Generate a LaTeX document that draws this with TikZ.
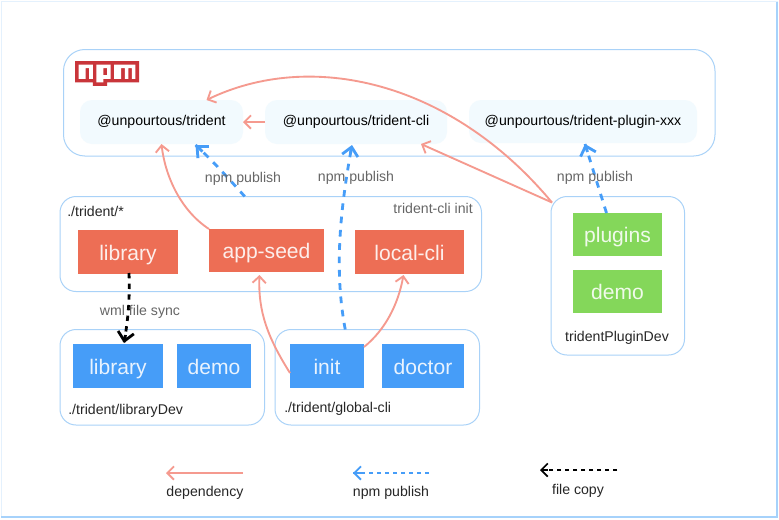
\documentclass[tikz,border=0pt]{standalone}
\usepackage{fontspec}
\setmainfont{Liberation Sans}
\usetikzlibrary{arrows.meta}
\definecolor{frameblue}{HTML}{A9D2F8}
\definecolor{framefaint}{HTML}{E4F1FD}
\definecolor{frameedge}{HTML}{A6D2FB}
\definecolor{boxred}{HTML}{ED6E55}
\definecolor{boxblue}{HTML}{469DF8}
\definecolor{boxgreen}{HTML}{84D75A}
\definecolor{linkpink}{HTML}{F59A8F}
\definecolor{pkgbg}{HTML}{F2FAFE}
\definecolor{npmred}{HTML}{C9353A}
\definecolor{labelgrey}{HTML}{666666}
\tikzset{
  group/.style={draw=frameblue,line width=0.75pt,rounded corners=12pt,fill=white},
  bigroup/.style={group,rounded corners=16pt},
  pkg/.style={fill=pkgbg,rounded corners=9pt,font=\fontsize{10.6}{12}\selectfont,text=black},
  filled/.style={font=\fontsize{15.8}{18}\selectfont,text height=14pt,text depth=2pt},
  redbox/.style={filled,fill=boxred,text=white!88!boxred},
  bluebox/.style={filled,fill=boxblue,text=white!88!boxblue},
  greenbox/.style={filled,fill=boxgreen,text=white!88!boxgreen},
  note/.style={font=\fontsize{10.6}{12}\selectfont,text=labelgrey,inner sep=0pt,text height=8pt,text depth=2pt},
  caption/.style={font=\fontsize{10.6}{12}\selectfont,text=black!85,inner sep=0pt,text height=8pt,text depth=2pt},
  dep/.style={draw=linkpink,line width=1.4pt,-{Straight Barb[length=5pt,width=10pt,line width=1.4pt]}},
  pub/.style={draw=boxblue,line width=2.1pt,dash pattern=on 5pt off 5pt},
  pubhead/.style={draw=boxblue,line width=2.1pt,-{Straight Barb[length=6.5pt,width=12pt,line width=2.1pt]}},
  sync/.style={draw=black,line width=2.1pt,dash pattern=on 4pt off 4pt},
  synchead/.style={draw=black,line width=2.1pt,-{Straight Barb[length=6.5pt,width=12pt,line width=2.1pt]}},
  legdep/.style={draw=linkpink,line width=1.4pt,-{Straight Barb[length=5pt,width=10pt,line width=1.4pt]}},
  legpub/.style={draw=boxblue,line width=1.4pt,dash pattern=on 3pt off 3pt},
  legpubhead/.style={draw=boxblue,line width=1.4pt,-{Straight Barb[length=5pt,width=10pt,line width=1.4pt]}},
  legcopy/.style={draw=black,line width=1.2pt,dash pattern=on 3pt off 3pt},
  legcopyhead/.style={draw=black,line width=1.2pt,-{Straight Barb[length=5pt,width=10pt,line width=1.2pt]}},
}
% style, name, x1, y1, x2, y2, text (pixel coordinates)
\newcommand{\pxbox}[7]{%
  \pgfmathsetmacro{\pxcx}{(#3+#5)/2}\pgfmathsetmacro{\pxcy}{(#4+#6)/2}%
  \pgfmathsetlengthmacro{\pxw}{(#5-#3)*0.75pt}\pgfmathsetlengthmacro{\pxh}{(#6-#4)*0.75pt}%
  \node[#1,minimum width=\pxw,minimum height=\pxh,inner sep=0pt,outer sep=0pt] (#2) at (\pxcx,\pxcy) {#7};%
}
\begin{document}
\begin{tikzpicture}[x=0.75pt,y=-0.75pt]
\useasboundingbox (0,0) rectangle (779,519);
\fill[white] (0,0) rectangle (779,519);
\pxbox{draw=framefaint,line width=1pt}{frame}{1.5}{1.5}{777}{517}{}
\draw[frameedge,line width=1.5pt] (frame.north east) -- (frame.south east) -- (frame.south west);
% containers
\pxbox{bigroup}{npmgroup}{63.5}{49.5}{715}{156}{}
\pxbox{group}{seedgroup}{60}{196.5}{481.5}{291.5}{}
\pxbox{group}{devgroup}{60}{329.5}{264.5}{425}{}
\pxbox{group}{cligroup}{275}{329.5}{479.5}{425}{}
\pxbox{group}{plugingroup}{551}{196.5}{684.5}{355}{}
% npm logo
\begin{scope}[shift={(75,61)},x=2.668pt,y=-2.668pt]
\fill[npmred] (0,0) -- (18,0) -- (18,6) -- (9,6) -- (9,7) -- (5,7) -- (5,6) -- (0,6) -- cycle;
\fill[white] (1,1) -- (1,5) -- (3,5) -- (3,2) -- (4,2) -- (4,5) -- (5,5) -- (5,1) -- cycle;
\fill[white,even odd rule] (6,1) -- (6,6) -- (8,6) -- (8,5) -- (10,5) -- (10,1) -- cycle (8,2) -- (9,2) -- (9,4) -- (8,4) -- cycle;
\fill[white] (11,1) -- (11,5) -- (13,5) -- (13,2) -- (14,2) -- (14,5) -- (15,5) -- (15,2) -- (16,2) -- (16,5) -- (17,5) -- (17,1) -- cycle;
\end{scope}
% packages
\pxbox{pkg}{trident}{80}{100}{243}{144}{@unpourtous/trident}
\pxbox{pkg}{tcli}{265}{100}{447}{144}{@unpourtous/trident-cli}
\pxbox{pkg}{tplugin}{469}{100}{697}{143}{@unpourtous/trident-plugin-xxx}
% boxes
\pxbox{redbox}{lib}{78}{230}{178}{274}{library}
\pxbox{redbox}{seed}{209}{229}{324}{272}{app-seed}
\pxbox{redbox}{local}{355}{230}{464}{274}{local-cli}
\pxbox{bluebox}{libdev}{73}{344}{163}{388}{library}
\pxbox{bluebox}{demoa}{177}{344}{251}{388}{demo}
\pxbox{bluebox}{init}{290}{344}{364}{388}{init}
\pxbox{bluebox}{doctor}{382}{344}{464}{388}{doctor}
\pxbox{greenbox}{plugins}{573}{213}{662}{256}{plugins}
\pxbox{greenbox}{demob}{573}{270}{662}{313}{demo}
% dependency connectors
\draw[dep] (tcli.west) -- (trident.east);
\draw[dep] ([shift={(1,6)}]plugingroup.north west) .. controls (450,80) and (310,50) .. ([shift={(45,0)}]trident.north);
\draw[dep] ([shift={(1,6)}]plugingroup.north west) -- ([shift={(-26,0)}]tcli.south east);
\draw[dep] (seed.north west) .. controls (180,210) and (165,175) .. (trident.south);
\draw[dep] ([shift={(0,7)}]init.west) .. controls (268,338) and (258,312) .. ([shift={(-7,3)}]seed.south);
\draw[dep] ([shift={(0,3)}]init.north east) .. controls (385,330) and (398,305) .. ([shift={(-6,1)}]local.south);
% publish connectors
\draw[pub] ([shift={(-26,0)}]seedgroup.north) .. controls (230,180) and (212,160) .. ([shift={(34,1)}]trident.south);
\draw[pubhead] ([shift={(41,7.5)}]trident.south) -- ([shift={(34,1)}]trident.south);
\draw[pub] ([shift={(-32,0)}]cligroup.north) .. controls (334,270) and (340,210) .. ([shift={(-4,1)}]tcli.south);
\draw[pubhead] ([shift={(-5.5,9)}]tcli.south) -- ([shift={(-4,1)}]tcli.south);
\draw[pub] ([shift={(-11,0)}]plugins.north) -- ([shift={(2,1)}]tplugin.south);
\draw[pubhead] ([shift={(4.5,9)}]tplugin.south) -- ([shift={(2,1)}]tplugin.south);
% sync connector
\draw[sync] ([shift={(1,-1)}]lib.south) .. controls (130,300) and (128,320) .. ([shift={(6,-1)}]libdev.north);
\draw[synchead] ([shift={(7.5,-9)}]libdev.north) -- ([shift={(6,-1)}]libdev.north);
% legend
\coordinate (depstart) at (243,473); \coordinate (depend) at (166,473);
\coordinate (pubstart) at (429,473); \coordinate (pubbase) at (361,473); \coordinate (pubend) at (353,473);
\coordinate (copystart) at (617,470); \coordinate (copybase) at (548,470); \coordinate (copyend) at (540,470);
\draw[legdep] (depstart) -- (depend);
\draw[legpub] (pubstart) -- (pubend);
\draw[legpubhead] (pubbase) -- (pubend);
\draw[legcopy] (copystart) -- (copyend);
\draw[legcopyhead] (copybase) -- (copyend);
% labels
\node[note] (l1) at (243,178) {npm publish};
\node[note] (l2) at (356,177) {npm publish};
\node[note] (l3) at (595,177) {npm publish};
\node[note,anchor=east] (l4) at (473,209) {trident-cli init};
\node[note] (l5) at (140,311) {wml file sync};
\node[caption,anchor=west] (c1) at (67,212) {./trident/*};
\node[caption,anchor=west] (c2) at (68,410) {./trident/libraryDev};
\node[caption,anchor=west] (c3) at (284,408.5) {./trident/global-cli};
\node[caption] (c4) at (617,337) {tridentPluginDev};
\node[caption] (c5) at (205,492) {dependency};
\node[caption] (c6) at (391,492) {npm publish};
\node[caption] (c7) at (578,490) {file copy};
\end{tikzpicture}
\end{document}
